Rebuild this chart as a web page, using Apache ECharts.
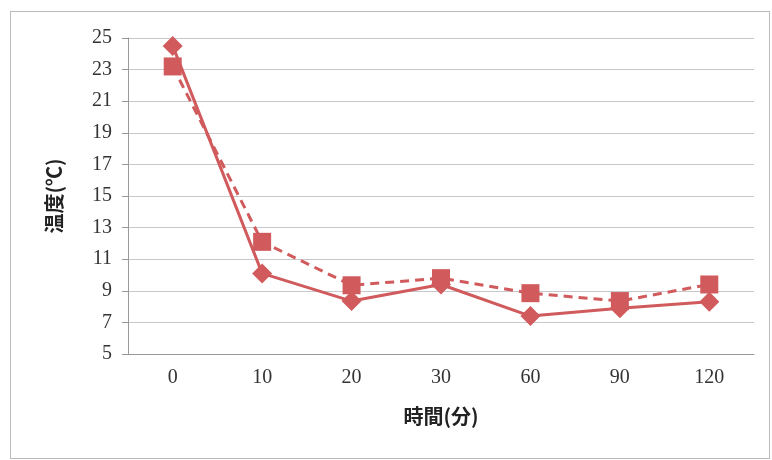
<!DOCTYPE html>
<html>
<head>
<meta charset="utf-8">
<script src="https://cdn.jsdelivr.net/npm/echarts@6/dist/echarts.min.js"></script>
<style>
  body { margin: 0; background: #fff; }
  #frame { position: absolute; left: 10px; top: 11px; width: 758px; height: 446px; border: 1px solid #bbb; }
  #chart { position: absolute; left: 0; top: 0; width: 772px; height: 460px; }
</style>
</head>
<body>
<div id="frame"></div>
<div id="chart"></div>
<script>
// 時間(分)
const categories = ['0', '10', '20', '30', '60', '90', '120']
// solid line, diamonds
const seriesA = [24.5, 10.1, 8.35, 9.4, 7.4, 7.9, 8.3]
// dashed line, squares
const seriesB = [23.2, 12.1, 9.35, 9.8, 8.85, 8.35, 9.4]

const red = '#d05a5c'
const myChart = echarts.init(document.getElementById('chart'))
myChart.setOption({
  animation: false,
  grid: { left: 128, right: 18, top: 38, bottom: 106 },
  xAxis: {
    type: 'category',
    data: categories,
    name: '時間(分)',
    nameLocation: 'middle',
    nameGap: 52,
    nameTextStyle: { fontFamily: 'Noto Sans CJK JP', fontSize: 20, fontWeight: 'bold', color: '#222' },
    axisLine: { lineStyle: { color: '#999' } },
    axisTick: { length: 6, lineStyle: { color: '#999' } },
    axisLabel: { fontFamily: 'Liberation Serif', fontSize: 20, color: '#333', margin: 14 }
  },
  yAxis: {
    type: 'value',
    min: 5,
    max: 25,
    interval: 2,
    name: '温度(℃)',
    nameLocation: 'middle',
    nameRotate: 90,
    nameGap: 64,
    nameTextStyle: { fontFamily: 'Noto Sans CJK JP', fontSize: 20, fontWeight: 'bold', color: '#222' },
    axisLine: { show: true, lineStyle: { color: '#999' } },
    axisTick: { show: true, length: 6, lineStyle: { color: '#999' } },
    axisLabel: { fontFamily: 'Liberation Serif', fontSize: 20, color: '#333', margin: 16 },
    splitLine: { lineStyle: { color: '#c8c8cc' } }
  },
  series: [
    {
      name: 'A',
      type: 'line',
      data: seriesA,
      symbol: 'diamond',
      symbolSize: 20,
      lineStyle: { color: red, width: 3 },
      itemStyle: { color: red }
    },
    {
      name: 'B',
      type: 'line',
      data: seriesB,
      symbol: 'rect',
      symbolSize: 18,
      lineStyle: { color: red, width: 3, type: [9, 6] },
      itemStyle: { color: red }
    }
  ]
})
</script>
</body>
</html>
